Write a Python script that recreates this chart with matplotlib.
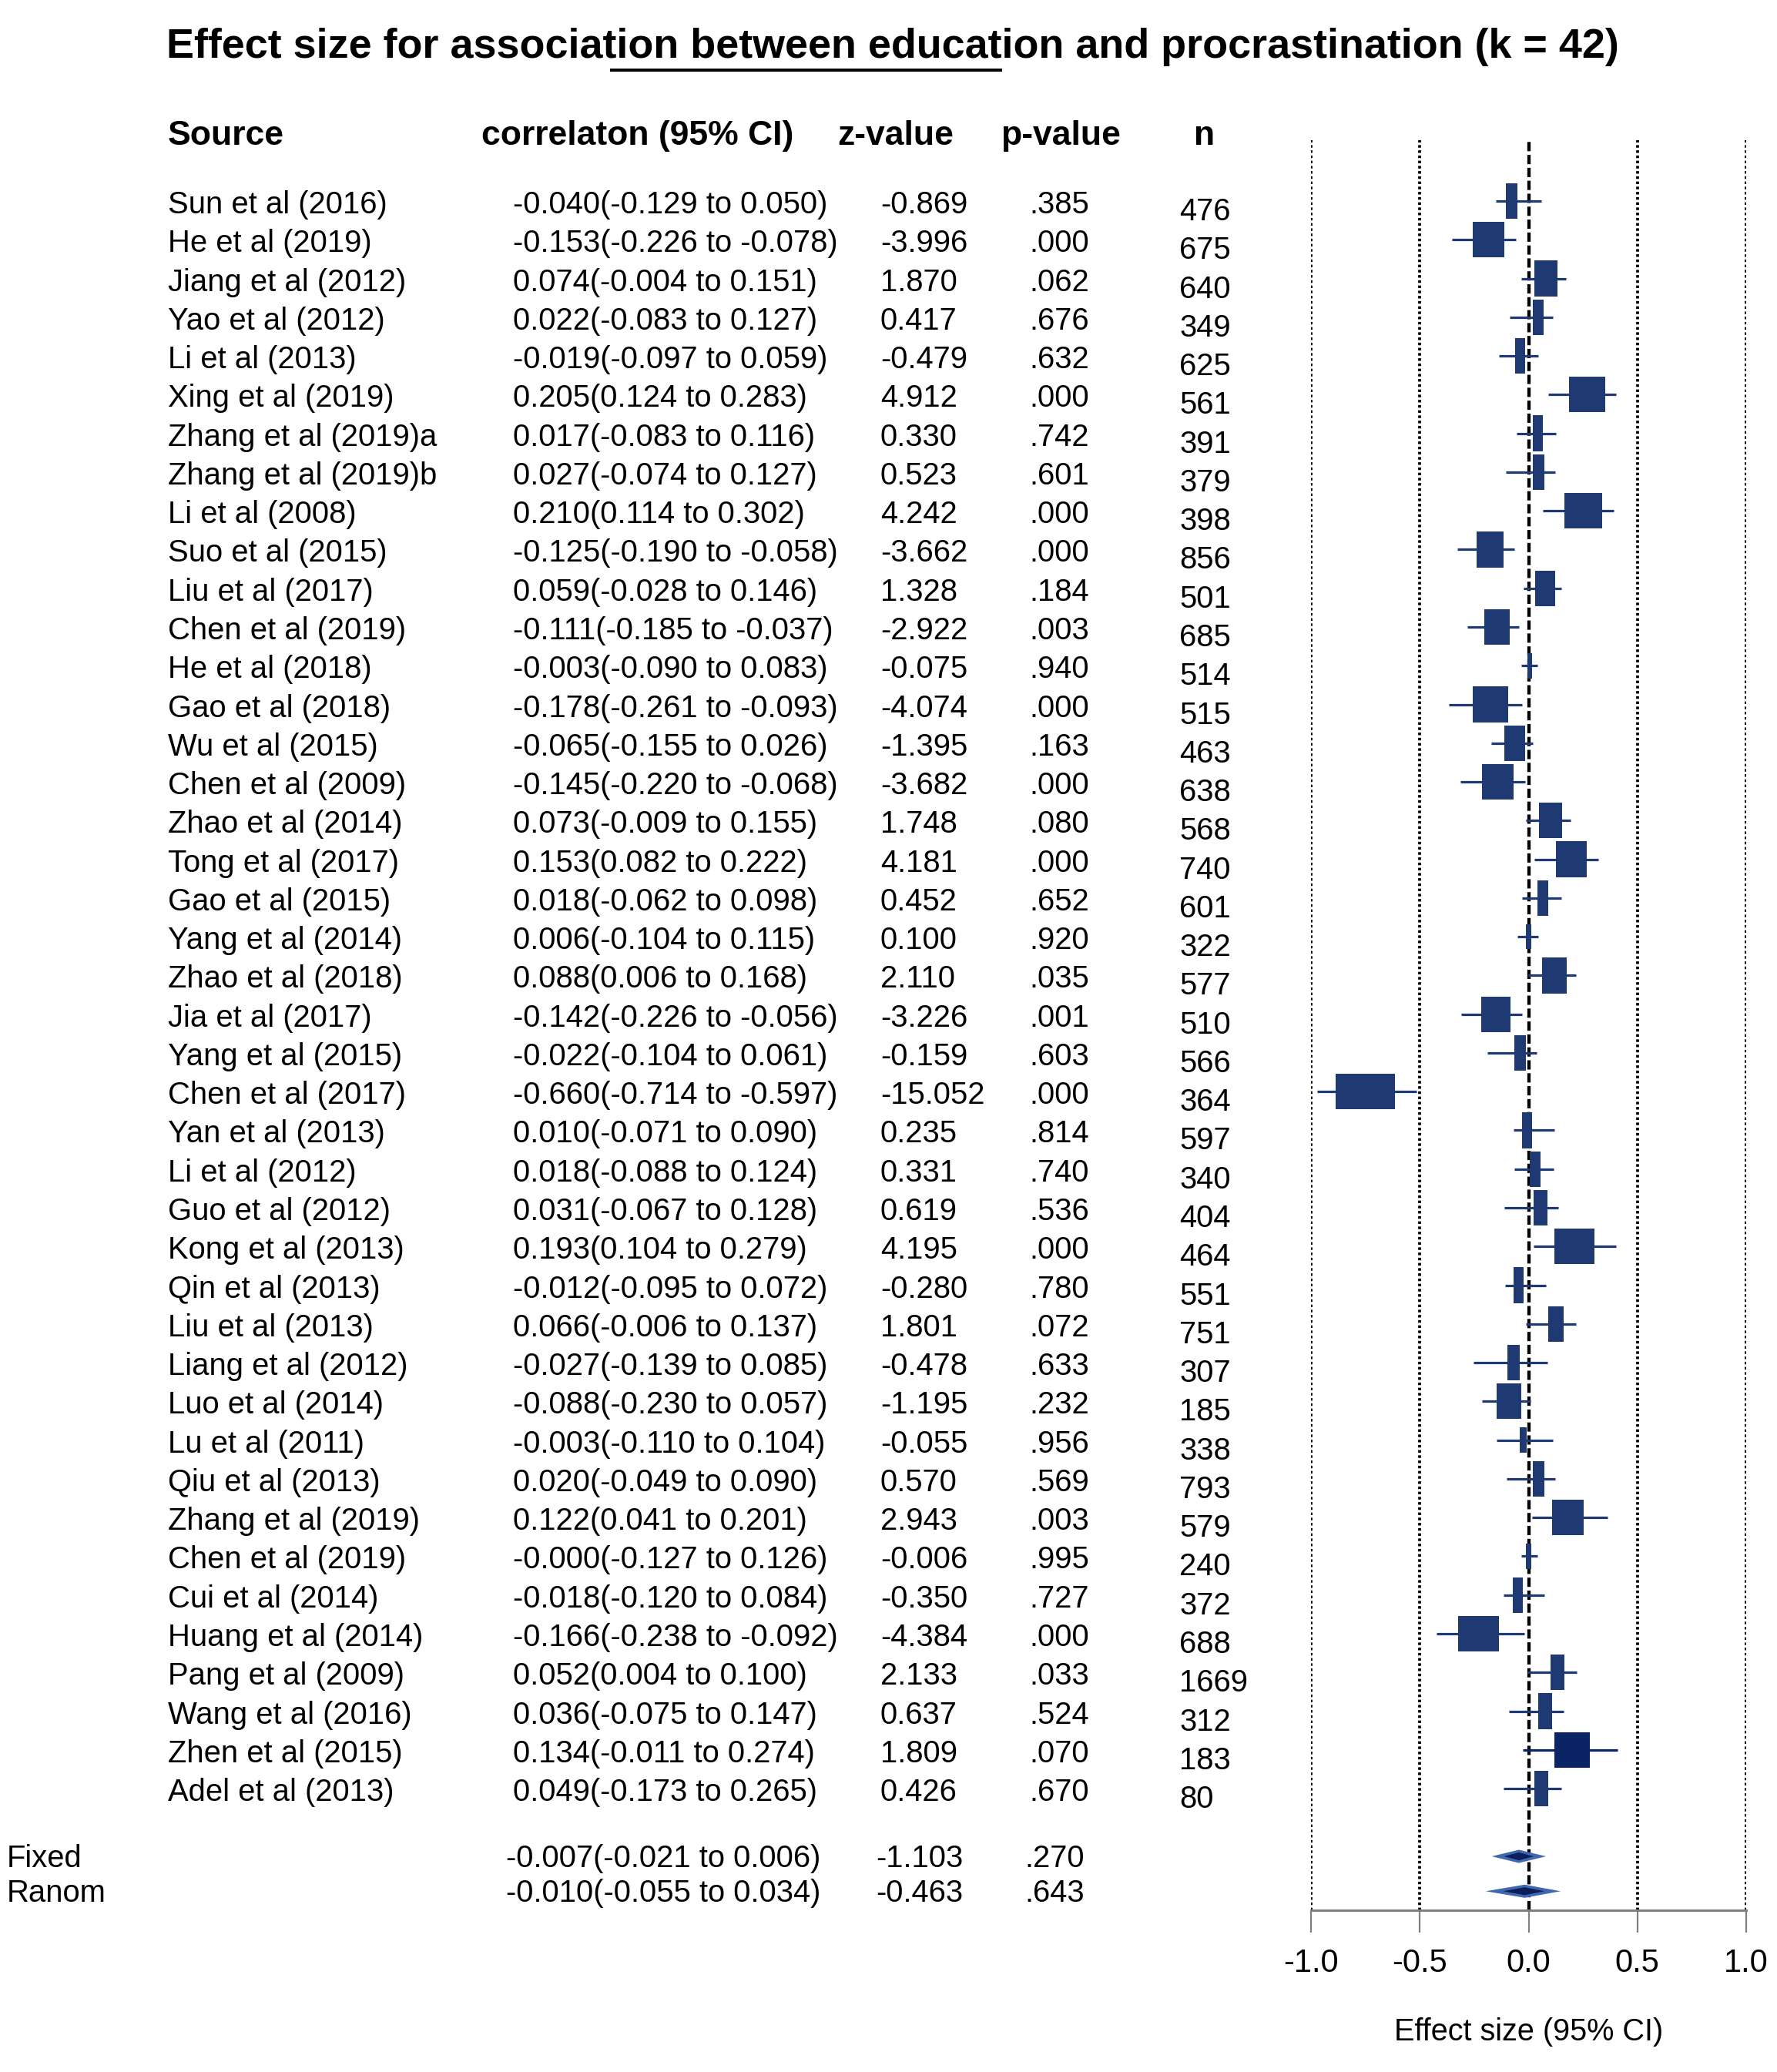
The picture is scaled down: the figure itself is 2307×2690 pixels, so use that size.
"""
Forest plot: education and procrastination meta-analysis (k = 42)
"""

import numpy as np
import matplotlib
matplotlib.use("Agg")
import matplotlib.pyplot as plt
from matplotlib import font_manager
from matplotlib.lines import Line2D

# ---- table data ----
sources = ["Sun et al (2016)", "He et al (2019)", "Jiang et al (2012)", "Yao et al (2012)",
           "Li et al (2013)", "Xing et al (2019)", "Zhang et al (2019)a", "Zhang et al (2019)b",
           "Li et al (2008)", "Suo et al (2015)", "Liu et al (2017)", "Chen et al (2019)",
           "He et al (2018)", "Gao et al (2018)", "Wu et al (2015)", "Chen et al (2009)",
           "Zhao et al (2014)", "Tong et al (2017)", "Gao et al (2015)", "Yang et al (2014)",
           "Zhao et al (2018)", "Jia et al (2017)", "Yang et al (2015)", "Chen et al (2017)",
           "Yan et al (2013)", "Li et al (2012)", "Guo et al (2012)", "Kong et al (2013)",
           "Qin et al (2013)", "Liu et al (2013)", "Liang et al (2012)", "Luo et al (2014)",
           "Lu et al (2011)", "Qiu et al (2013)", "Zhang et al (2019)", "Chen et al (2019)",
           "Cui et al (2014)", "Huang et al (2014)", "Pang et al (2009)", "Wang et al (2016)",
           "Zhen et al (2015)", "Adel et al (2013)"]

r = [-0.040, -0.153, 0.074, 0.022, -0.019, 0.205, 0.017, 0.027, 0.210, -0.125,
     0.059, -0.111, -0.003, -0.178, -0.065, -0.145, 0.073, 0.153, 0.018, 0.006,
     0.088, -0.142, -0.022, -0.660, 0.010, 0.018, 0.031, 0.193, -0.012, 0.066,
     -0.027, -0.088, -0.003, 0.020, 0.122, -0.0, -0.018, -0.166, 0.052, 0.036,
     0.134, 0.049]
ci_lo = [-0.129, -0.226, -0.004, -0.083, -0.097, 0.124, -0.083, -0.074, 0.114, -0.190,
         -0.028, -0.185, -0.090, -0.261, -0.155, -0.220, -0.009, 0.082, -0.062, -0.104,
         0.006, -0.226, -0.104, -0.714, -0.071, -0.088, -0.067, 0.104, -0.095, -0.006,
         -0.139, -0.230, -0.110, -0.049, 0.041, -0.127, -0.120, -0.238, 0.004, -0.075,
         -0.011, -0.173]
ci_hi = [0.050, -0.078, 0.151, 0.127, 0.059, 0.283, 0.116, 0.127, 0.302, -0.058,
         0.146, -0.037, 0.083, -0.093, 0.026, -0.068, 0.155, 0.222, 0.098, 0.115,
         0.168, -0.056, 0.061, -0.597, 0.090, 0.124, 0.128, 0.279, 0.072, 0.137,
         0.085, 0.057, 0.104, 0.090, 0.201, 0.126, 0.084, -0.092, 0.100, 0.147,
         0.274, 0.265]
z_val = [-0.869, -3.996, 1.870, 0.417, -0.479, 4.912, 0.330, 0.523, 4.242, -3.662,
         1.328, -2.922, -0.075, -4.074, -1.395, -3.682, 1.748, 4.181, 0.452, 0.100,
         2.110, -3.226, -0.159, -15.052, 0.235, 0.331, 0.619, 4.195, -0.280, 1.801,
         -0.478, -1.195, -0.055, 0.570, 2.943, -0.006, -0.350, -4.384, 2.133, 0.637,
         1.809, 0.426]
p_val = [0.385, 0.000, 0.062, 0.676, 0.632, 0.000, 0.742, 0.601, 0.000, 0.000,
         0.184, 0.003, 0.940, 0.000, 0.163, 0.000, 0.080, 0.000, 0.652, 0.920,
         0.035, 0.001, 0.603, 0.000, 0.814, 0.740, 0.536, 0.000, 0.780, 0.072,
         0.633, 0.232, 0.956, 0.569, 0.003, 0.995, 0.727, 0.000, 0.033, 0.524,
         0.070, 0.670]
n_size = [476, 675, 640, 349, 625, 561, 391, 379, 398, 856, 501, 685, 514, 515, 463, 638,
          568, 740, 601, 322, 577, 510, 566, 364, 597, 340, 404, 464, 551, 751, 307, 185,
          338, 793, 579, 240, 372, 688, 1669, 312, 183, 80]

summary_names = ["Fixed", "Ranom"]
summary_r = [-0.007, -0.010]
summary_lo = [-0.021, -0.055]
summary_hi = [0.006, 0.034]
summary_z = [-1.103, -0.463]
summary_p = [0.270, 0.643]

# ---- what the forest panel actually shows ----
plot_mid = [-0.079, -0.183, 0.081, 0.045, -0.040, 0.269, 0.042, 0.047, 0.251, -0.178,
            0.076, -0.145, 0.004, -0.175, -0.064, -0.141, 0.101, 0.198, 0.064, 0.001,
            0.118, -0.150, -0.039, -0.751, -0.007, 0.031, 0.054, 0.210, -0.045, 0.125,
            -0.069, -0.089, -0.024, 0.047, 0.180, 0.001, -0.050, -0.230, 0.134, 0.076,
            0.199, 0.059]
plot_box = [0.052, 0.145, 0.106, 0.051, 0.046, 0.166, 0.044, 0.054, 0.173, 0.125,
            0.089, 0.117, 0.021, 0.162, 0.094, 0.145, 0.108, 0.142, 0.049, 0.024,
            0.113, 0.134, 0.056, 0.273, 0.048, 0.049, 0.063, 0.183, 0.045, 0.069,
            0.058, 0.114, 0.032, 0.054, 0.144, 0.024, 0.045, 0.190, 0.063, 0.064,
            0.162, 0.066]
plot_lo = [-0.150, -0.353, -0.035, -0.086, -0.136, 0.090, -0.055, -0.105, 0.064, -0.328,
           -0.022, -0.283, -0.032, -0.368, -0.171, -0.314, -0.014, 0.028, -0.031, -0.050,
           -0.001, -0.309, -0.191, -0.973, -0.070, -0.067, -0.110, 0.024, -0.108, -0.014,
           -0.253, -0.215, -0.146, -0.101, 0.016, -0.032, -0.114, -0.422, -0.004, -0.091,
           -0.025, -0.115]
plot_hi = [0.057, -0.060, 0.173, 0.113, 0.045, 0.403, 0.127, 0.122, 0.391, -0.067,
           0.151, -0.043, 0.040, -0.029, 0.020, -0.015, 0.192, 0.322, 0.151, 0.045,
           0.217, -0.029, 0.038, -0.515, 0.117, 0.114, 0.137, 0.403, 0.079, 0.218,
           0.086, 0.010, 0.113, 0.122, 0.363, 0.040, 0.074, -0.021, 0.222, 0.161,
           0.408, 0.149]
diamond_lo = [-0.169, -0.197]
diamond_mid = [-0.045, -0.018]
diamond_hi = [0.080, 0.147]

x_ticks = [-1.0, -0.5, 0.0, 0.5, 1.0]

# ---- fonts ----
installed = {f.name for f in font_manager.fontManager.ttflist}
body_font = ["Liberation Sans", "Arial", "DejaVu Sans"]
if "Liberation Sans Narrow" in installed:
    head_font = ["Liberation Sans Narrow", "DejaVu Sans"]
    title_size, head_size = 47, 38
else:
    head_font = body_font
    title_size, head_size = 38.8, 32
plt.rcParams["font.family"] = body_font

W, H = 2307, 2690
fig = plt.figure(figsize=(W / 100, H / 100), dpi=100)


def fx(x):
    return x / W


def fy(y):
    return 1 - y / H


# title + the stray underline
fig.text(fx(1159), fy(75), "Effect size for association between education and procrastination (k = 42)",
         ha="center", va="baseline", fontsize=title_size, fontweight="bold", family=head_font)
fig.add_artist(Line2D([fx(794), fx(1299)], [fy(91), fy(91)], color="black", lw=2.9))

# column headers
for txt, x in [("Source", 218), ("correlaton (95% CI)", 625), ("z-value", 1087),
               ("p-value", 1299), ("n", 1550)]:
    fig.text(fx(x), fy(188), txt, ha="left", va="baseline", fontsize=head_size,
             fontweight="bold", family=head_font)

# rows
row_fs = 28.8
base0, step = 277, 50.27
for i in range(len(sources)):
    yb = base0 + step * i
    corr = f"{r[i]:.3f}({ci_lo[i]:.3f} to {ci_hi[i]:.3f})"
    fig.text(fx(218), fy(yb), sources[i], va="baseline", fontsize=row_fs)
    fig.text(fx(666), fy(yb), corr, va="baseline", fontsize=row_fs)
    fig.text(fx(1143), fy(yb), f"{z_val[i]:.3f}", va="baseline", fontsize=row_fs)
    fig.text(fx(1336), fy(yb), f"{p_val[i]:.3f}"[1:], va="baseline", fontsize=row_fs)
    fig.text(fx(1531), fy(yb + 9), str(n_size[i]), va="baseline", fontsize=row_fs)

for j, yb in enumerate([2424, 2469]):
    corr = f"{summary_r[j]:.3f}({summary_lo[j]:.3f} to {summary_hi[j]:.3f})"
    fig.text(fx(9), fy(yb), summary_names[j], va="baseline", fontsize=row_fs)
    fig.text(fx(657), fy(yb), corr, va="baseline", fontsize=row_fs)
    fig.text(fx(1137), fy(yb), f"{summary_z[j]:.3f}", va="baseline", fontsize=row_fs)
    fig.text(fx(1330), fy(yb), f"{summary_p[j]:.3f}"[1:], va="baseline", fontsize=row_fs)

# ---- forest panel ----
top_px, bot_px = 182, 2480
left_px, right_px = 1702, 2267
ax = fig.add_axes([fx(left_px), fy(bot_px), (right_px - left_px) / W, (bot_px - top_px) / H])
ax.set_xlim(-1.0, 1.0)
ax.set_ylim((bot_px - 261) / step, (top_px - 261) / step)

rows = np.arange(len(sources))
navy = "#1f3a72"
colors = [navy] * len(sources)
colors[40] = "#0a2466"
box_h = np.where(np.array(plot_box) < 0.035, 0.65, 0.92)

for v in [-1.0, -0.5, 0.5, 1.0]:
    ax.axvline(v, color="black", lw=2.7, ls=(0, (0.9, 0.9)), zorder=1)
ax.axvline(0, color="black", lw=3.1, ls=(0, (2.8, 1.1)), zorder=1)

ax.hlines(rows, plot_lo, plot_hi, color=colors, lw=2.3, zorder=2)
ax.barh(rows, plot_box, left=np.array(plot_mid) - np.array(plot_box) / 2,
        height=box_h, color=colors, zorder=3)

diamond_rows = [42.75, 43.65]
for k in range(2):
    yr, hh = diamond_rows[k], 0.17
    lo, mid, hi = diamond_lo[k], diamond_mid[k], diamond_hi[k]
    ax.fill([lo, mid, hi, mid], [yr, yr - hh, yr, yr + hh], color="#3f68ad", zorder=3, lw=0)
    ax.fill([mid - (mid - lo) * 0.55, mid, mid + (hi - mid) * 0.55, mid],
            [yr, yr - hh * 0.6, yr, yr + hh * 0.6], color="#0c1f5c", zorder=4, lw=0)

for s in ["top", "left", "right"]:
    ax.spines[s].set_visible(False)
ax.spines["bottom"].set_color("#808080")
ax.spines["bottom"].set_linewidth(2.2)
ax.set_yticks([])
ax.set_xticks(x_ticks)
ax.set_xticklabels([f"{t:.1f}" for t in x_ticks])
ax.tick_params(axis="x", length=21, width=1.6, color="#808080", labelsize=30, pad=14)
ax.set_xlabel("Effect size (95% CI)", fontsize=28.5, labelpad=36)

fig.savefig("out.png", dpi=100)
